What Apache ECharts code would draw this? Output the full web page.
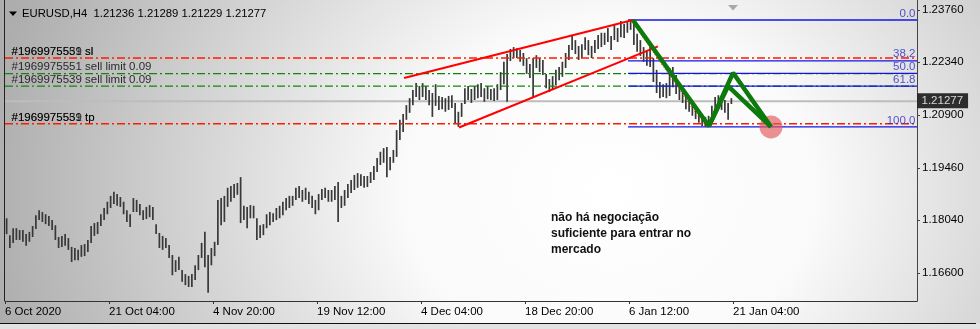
<!DOCTYPE html>
<html><head><meta charset="utf-8">
<script src="https://cdn.jsdelivr.net/npm/echarts@6/dist/echarts.min.js"></script>
<style>
html,body{margin:0;padding:0;}
#c{width:980px;height:329px;background:radial-gradient(ellipse 630px 520px at 610px 190px,#ffffff 0%,#fafafa 33%,#adadad 100%);}
</style></head><body><div id="c"></div>
<script>
// EURUSD H4 bars, aggregated per 8 hours (index 0 = 6 Oct 2020)
const highs=[
1.1809,1.1763,1.1782,1.1782,1.1777,1.1777,1.1766,1.1772,1.1788,1.1817,
1.1831,1.1826,1.1820,1.1815,1.1804,1.1790,1.1758,1.1761,1.1766,1.1755,
1.1731,1.1728,1.1723,1.1736,1.1739,1.1750,1.1788,1.1796,1.1799,1.1820,
1.1837,1.1854,1.1870,1.1881,1.1875,1.1867,1.1854,1.1831,1.1820,1.1864,
1.1859,1.1848,1.1831,1.1840,1.1845,1.1840,1.1793,1.1769,1.1761,1.1755,
1.1736,1.1709,1.1695,1.1704,1.1668,1.1657,1.1652,1.1657,1.1681,1.1709,
1.1742,1.1772,1.1709,1.1728,1.1745,1.1859,1.1864,1.1870,1.1892,1.1897,
1.1902,1.1905,1.1921,1.1843,1.1840,1.1845,1.1843,1.1809,1.1790,1.1793,
1.1820,1.1826,1.1823,1.1837,1.1843,1.1854,1.1864,1.1870,1.1870,1.1892,
1.1897,1.1886,1.1892,1.1881,1.1870,1.1859,1.1875,1.1889,1.1892,1.1886,
1.1886,1.1897,1.1908,1.1870,1.1886,1.1902,1.1913,1.1927,1.1932,1.1929,
1.1924,1.1924,1.1935,1.1951,1.1973,1.1990,1.2000,1.2003,1.1976,1.1995,
1.2049,1.2077,1.2093,1.2117,1.2136,1.2158,1.2177,1.2169,1.2177,1.2169,
1.2158,1.2150,1.2174,1.2142,1.2139,1.2136,1.2142,1.2144,1.2123,1.2099,
1.2123,1.2163,1.2169,1.2161,1.2169,1.2174,1.2177,1.2163,1.2169,1.2161,
1.2163,1.2174,1.2207,1.2235,1.2256,1.2270,1.2275,1.2272,1.2267,1.2259,
1.2245,1.2229,1.2245,1.2253,1.2245,1.2240,1.2202,1.2188,1.2196,1.2213,
1.2221,1.2235,1.2259,1.2281,1.2308,1.2294,1.2278,1.2283,1.2302,1.2294,
1.2278,1.2294,1.2308,1.2314,1.2314,1.2327,1.2305,1.2338,1.2327,1.2346,
1.2338,1.2343,1.2349,1.2338,1.2311,1.2294,1.2275,1.2267,1.2283,1.2245,
1.2213,1.2180,1.2174,1.2177,1.2218,1.2221,1.2199,1.2169,1.2163,1.2155,
1.2136,1.2126,1.2115,1.2104,1.2093,1.2085,1.2088,1.2115,1.2139,1.2144,
1.2139,1.2131,1.2123,1.2136];
const lows=[
1.1766,1.1728,1.1742,1.1750,1.1750,1.1745,1.1734,1.1745,1.1758,1.1780,
1.1804,1.1799,1.1793,1.1788,1.1777,1.1750,1.1728,1.1731,1.1734,1.1723,
1.1690,1.1695,1.1695,1.1704,1.1706,1.1717,1.1742,1.1761,1.1766,1.1788,
1.1804,1.1820,1.1837,1.1848,1.1843,1.1840,1.1820,1.1799,1.1785,1.1826,
1.1826,1.1817,1.1804,1.1807,1.1812,1.1804,1.1766,1.1728,1.1723,1.1728,
1.1701,1.1654,1.1663,1.1668,1.1636,1.1627,1.1622,1.1622,1.1641,1.1668,
1.1701,1.1676,1.1606,1.1681,1.1706,1.1736,1.1790,1.1799,1.1840,1.1854,
1.1864,1.1873,1.1796,1.1804,1.1782,1.1809,1.1809,1.1750,1.1755,1.1763,
1.1782,1.1790,1.1799,1.1804,1.1809,1.1817,1.1831,1.1837,1.1843,1.1859,
1.1864,1.1854,1.1859,1.1848,1.1837,1.1820,1.1831,1.1859,1.1864,1.1854,
1.1854,1.1859,1.1799,1.1837,1.1843,1.1864,1.1878,1.1886,1.1892,1.1897,
1.1892,1.1894,1.1905,1.1913,1.1935,1.1954,1.1960,1.1921,1.1940,1.1960,
1.1976,1.2022,1.2044,1.2077,1.2096,1.2117,1.2139,1.2131,1.2139,1.2131,
1.2117,1.2085,1.2115,1.2104,1.2106,1.2099,1.2104,1.2109,1.2066,1.2058,
1.2085,1.2120,1.2131,1.2123,1.2131,1.2136,1.2139,1.2126,1.2133,1.2131,
1.2128,1.2131,1.2158,1.2174,1.2126,1.2237,1.2245,1.2245,1.2235,1.2224,
1.2202,1.2191,1.2139,1.2218,1.2207,1.2199,1.2163,1.2153,1.2158,1.2172,
1.2185,1.2194,1.2218,1.2240,1.2267,1.2256,1.2240,1.2245,1.2267,1.2253,
1.2245,1.2259,1.2270,1.2275,1.2281,1.2289,1.2267,1.2294,1.2289,1.2302,
1.2300,1.2314,1.2322,1.2281,1.2262,1.2251,1.2235,1.2224,1.2221,1.2180,
1.2150,1.2136,1.2139,1.2136,1.2142,1.2166,1.2147,1.2131,1.2123,1.2106,
1.2099,1.2088,1.2079,1.2069,1.2060,1.2058,1.2058,1.2071,1.2101,1.2112,
1.2104,1.2096,1.2077,1.2120];

const xTickIdx=[0,32,64,96,128,160,192,224];
const xTickLabels=['6 Oct 2020','21 Oct 04:00','4 Nov 20:00','19 Nov 12:00','4 Dec 04:00','18 Dec 20:00','6 Jan 12:00','21 Jan 04:00'];
const yTicks=[1.16600,1.18040,1.19460,1.20900,1.22340,1.23760];
const headerText='EURUSD,H4  1.21236 1.21289 1.21229 1.21277';
const lastPrice=1.21277;

const fibHigh=1.23488, fibLow=1.20578;
const fibLevels=[0,38.2,50,61.8,100];
const fibFromIdx=191.7, fibHighIdx=192.5, fibLowIdx=215.5;

const redOrders=[{price:1.2245,labels:['#1969975551 sl','#1969975539 sl']},{price:1.2066,labels:['#1969975551 tp','#1969975539 tp']}];
const greenOrders=[{price:1.2203,labels:['#1969975551 sell limit 0.09']},{price:1.2169,labels:['#1969975539 sell limit 0.09']}];

const channelUpper=[[122.8,1.2191],[193.2,1.23488]];
const channelLower=[[139.7,1.2056],[200.9,1.2277]];
const zigzag1=[[193.2,1.23488],[216.6,1.2060],[224.0,1.2205],[235.7,1.20578]];
const zigzag2=[[216.6,1.2060],[222.5,1.2169],[235.7,1.20578]];
const target=[235.7,1.20578];
const note='não há negociação\nsuficiente para entrar no\nmercado';

const X_MAX=912/3.25, Y_MIN=1.15838, Y_MAX=1.24032;
const FONT='"Liberation Sans", Arial, sans-serif';

function seg(data,color,width,type,z){
  return {type:'line',data:data,symbol:'none',silent:true,z:z||3,clip:false,
    lineStyle:{color:color,width:width,type:type||'solid'},animation:false};
}
function labelPt(x,y,text,opt){
  return {value:[x,y],label:Object.assign({show:true,formatter:text,position:[0,0],
    fontFamily:FONT,fontSize:11},opt)};
}

const series=[];
series.push(seg([[0,lastPrice],[X_MAX,lastPrice]],'#bdbdbd',2,'solid',1));
series.push({type:'custom',silent:true,z:2,animation:false,
  encode:{x:0,y:[1,2]},
  data:highs.map((h,i)=>[i+0.5,lows[i],h]),
  renderItem:function(p,api){
    const x=api.value(0);
    const a=api.coord([x,api.value(1)]), b=api.coord([x,api.value(2)]);
    return {type:'line',shape:{x1:a[0],y1:a[1],x2:b[0],y2:b[1]},style:{stroke:'#383838',lineWidth:1.7}};
  }});
const dashDot=[8,3,2,3];
greenOrders.forEach(o=>series.push(seg([[0,o.price],[X_MAX,o.price]],'#0f870f',1.3,dashDot,3)));
// fibonacci
const fibPrices=fibLevels.map(l=>fibHigh-(fibHigh-fibLow)*l/100);
fibPrices.forEach(p=>series.push(seg([[fibFromIdx,p],[X_MAX,p]],'#1414e6',1.3,'solid',4)));
redOrders.forEach(o=>series.push(seg([[0,o.price],[X_MAX,o.price]],'#ff1a00',1.5,dashDot,5)));
series.push(seg([[fibHighIdx,fibHigh],[fibLowIdx,fibLow]],'#ff2020',1,[1,2],5));
series.push(seg(channelUpper,'#ff0000',2,'solid',6));
series.push(seg(channelLower,'#ff0000',2,'solid',6));
series.push({type:'scatter',data:[target],symbolSize:23,silent:true,z:6,clip:false,
  itemStyle:{color:'rgba(228,88,88,0.82)'},animation:false});
series.push(seg(zigzag1,'#0c7a0c',4.5,'solid',7));
series.push(seg(zigzag2,'#0c7a0c',4.5,'solid',7));

// text labels
const lbl=[];
fibLevels.forEach((l,k)=>lbl.push(labelPt(280.3,fibPrices[k],l.toFixed(1),
  {align:'right',verticalAlign:'bottom',color:'#2a2ac4',fontSize:11.5,offset:[0,0]})));
redOrders.concat(greenOrders).forEach(o=>o.labels.forEach(t=>lbl.push(labelPt(2.15,o.price,t,
  {align:'left',verticalAlign:'bottom',color:'#000000',fontSize:11.5,offset:[0,0]}))));
lbl.push(labelPt(X_MAX,lastPrice,lastPrice.toFixed(5),
  {align:'left',verticalAlign:'middle',color:'#ffffff',backgroundColor:'#000000',fontSize:11.5,
   padding:[2,5,1,4],offset:[1,0]}));
series.push({type:'scatter',data:lbl,symbolSize:1,silent:true,z:10,clip:false,
  itemStyle:{color:'transparent'},animation:false});

const chart=echarts.init(document.getElementById('c'),null,{renderer:'canvas'});
chart.setOption({
  animation:false,
  backgroundColor:'transparent',
  grid:{left:5,right:63,top:0,bottom:28},
  xAxis:{type:'value',min:0,max:X_MAX,
    axisLine:{show:true,onZero:false,lineStyle:{color:'#333',width:1}},
    axisTick:{show:true,customValues:xTickIdx,length:3,lineStyle:{color:'#333'}},
    axisLabel:{customValues:xTickIdx,align:'left',margin:5,color:'#000',fontSize:11.5,fontFamily:FONT,
      formatter:v=>xTickLabels[xTickIdx.indexOf(Math.round(v))]},
    splitLine:{show:false}},
  yAxis:{type:'value',position:'right',min:Y_MIN,max:Y_MAX,
    axisLine:{show:true,onZero:false,lineStyle:{color:'#444',width:1}},
    axisTick:{show:true,customValues:yTicks,length:3,lineStyle:{color:'#444'}},
    axisLabel:{customValues:yTicks,margin:5,color:'#000',fontSize:11.5,fontFamily:FONT,formatter:v=>v.toFixed(5)},
    splitLine:{show:false}},
  series:series,
  graphic:[
    {type:'line',shape:{x1:4.5,y1:0,x2:4.5,y2:301},style:{stroke:'#222',lineWidth:1}},
    {type:'polygon',shape:{points:[[9,11.5],[17,11.5],[13,16]]},style:{fill:'#000'}},
    {type:'text',left:22,top:8,style:{text:headerText,font:'11.3px '+FONT,fill:'#000'}},
    {type:'polygon',shape:{points:[[728,5],[738,5],[733,10.5]]},style:{fill:'#a8a8a8'}},
    {type:'text',left:551,top:210,style:{text:note,font:'bold 12px '+FONT,lineHeight:16,fill:'#111'}},
    {type:'rect',shape:{x:0,y:323,width:980,height:6},style:{fill:'#e2e2e2'}},
    {type:'line',shape:{x1:0,y1:323.5,x2:976,y2:323.5},style:{stroke:'#111',lineWidth:1}}
  ]
});
</script></body></html>
